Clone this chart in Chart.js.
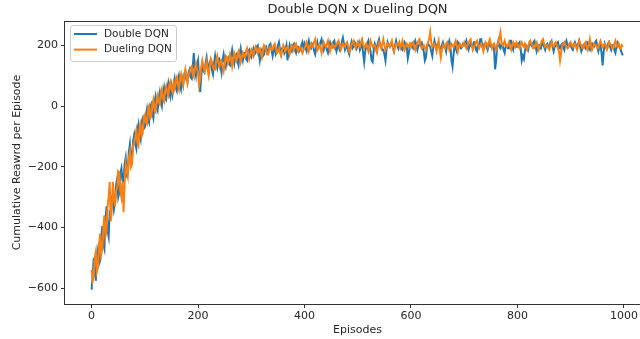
<!DOCTYPE html>
<html>
<head>
<meta charset="utf-8">
<script src="https://cdn.jsdelivr.net/npm/chart.js@4.4.1/dist/chart.umd.min.js"></script>
<style>
  html, body { margin: 0; padding: 0; background: #fff; overflow: hidden; }
  #wrap { width: 660px; height: 339px; }
</style>
</head>
<body>
<div id="wrap"><canvas id="rewardChart"></canvas></div>
<script>
// one value every 2 episodes
const episodes = Array.from({ length: 500 }, (_, i) => i * 2);

const doubleDqn = [
  // 0 - 98
  -605, -560, -500, -545, -575, -490, -470, -520, -510, -440, -395, -455, -470, -380, -330, -410, -430, -350, -355, -300, -290, -340, -320, -260, -240,
  -300, -285, -220, -205, -245, -250, -190, -170, -225, -215, -150, -125, -175, -170, -115, -95, -125, -140, -80, -60, -95, -110, -50, -40, -75,
  // 100 - 198
  -70, -30, -10, -45, -55, -5, 5, -25, -40, 10, 30, -5, -15, 25, 45, 15, 0, 40, 60, 25, 20, 55, 75, 45, 30,
  65, 40, 70, 90, 60, 50, 85, 100, 70, 55, 90, 70, 105, 115, 85, 80, 110, 120, 95, 90, 130, 174, 120, 100, 135,
  // 200 - 298
  150, 90, 46, 100, 135, 115, 110, 140, 160, 130, 120, 145, 150, 120, 105, 140, 165, 140, 125, 150, 155, 130, 110, 150, 170,
  145, 130, 155, 160, 140, 135, 165, 185, 160, 140, 165, 170, 150, 135, 170, 190, 165, 150, 175, 175, 155, 150, 180, 185, 165,
  // 300 - 398
  160, 180, 190, 170, 175, 195, 200, 175, 150, 175, 185, 165, 170, 190, 195, 175, 180, 200, 205, 185, 165, 185, 190, 170, 178,
  200, 210, 185, 170, 190, 195, 175, 185, 200, 150, 180, 200, 185, 180, 200, 205, 185, 175, 195, 195, 180, 185, 200, 210, 190,
  // 400 - 498
  205, 190, 180, 200, 215, 195, 190, 205, 200, 180, 170, 195, 210, 190, 195, 210, 220, 200, 185, 200, 200, 185, 175, 195, 210,
  200, 195, 210, 215, 195, 180, 195, 205, 185, 190, 210, 225, 205, 185, 195, 200, 180, 170, 195, 210, 190, 195, 210, 205, 190,
  // 500 - 598
  200, 210, 185, 195, 210, 175, 145, 180, 195, 205, 215, 195, 180, 150, 145, 185, 205, 195, 190, 210, 220, 200, 195, 185, 185,
  170, 150, 185, 210, 200, 195, 205, 205, 190, 180, 200, 215, 200, 190, 205, 200, 190, 185, 200, 210, 200, 195, 157, 175, 200,
  // 600 - 698
  205, 195, 190, 205, 215, 200, 185, 200, 200, 210, 210, 190, 180, 150, 160, 195, 205, 200, 195, 180, 165, 195, 215, 200, 190,
  205, 205, 190, 185, 200, 210, 195, 195, 180, 205, 205, 215, 195, 150, 130, 170, 200, 190, 180, 210, 205, 195, 190, 195, 205,
  // 700 - 798
  200, 205, 215, 195, 185, 200, 205, 195, 195, 210, 210, 185, 180, 200, 200, 220, 220, 195, 190, 205, 205, 195, 185, 200, 210,
  195, 195, 200, 190, 121, 150, 200, 215, 195, 190, 205, 200, 185, 175, 200, 200, 190, 190, 215, 215, 195, 185, 205, 205, 195,
  // 800 - 898
  195, 205, 210, 190, 150, 165, 155, 180, 200, 195, 185, 200, 210, 200, 195, 210, 215, 195, 180, 195, 200, 195, 190, 205, 210,
  195, 185, 200, 205, 195, 195, 210, 215, 195, 180, 195, 200, 205, 210, 195, 190, 200, 205, 195, 185, 205, 215, 200, 195, 205,
  // 900 - 998
  200, 190, 185, 200, 210, 200, 195, 205, 215, 195, 180, 190, 200, 195, 190, 210, 210, 190, 185, 200, 205, 195, 195, 210, 215,
  195, 180, 195, 200, 175, 134, 180, 205, 195, 190, 205, 210, 195, 185, 200, 200, 185, 175, 195, 210, 205, 195, 185, 175, 167
];

const duelingDqn = [
  // 0 - 98
  -540, -575, -560, -500, -480, -545, -530, -460, -420, -490, -470, -400, -360, -430, -410, -330, -300, -250, -380, -340, -250, -300, -330, -280, -270,
  -215, -220, -280, -300, -250, -350, -260, -190, -210, -230, -170, -150, -200, -190, -130, -120, -100, -80, -120, -130, -75, -60, -100, -90, -40,
  // 100 - 198
  -30, -55, -60, -10, 0, -40, -35, 5, 20, -15, -20, 20, 35, 10, 5, 40, 55, 25, 15, 50, 65, 45, 35, 70, 80,
  55, 45, 75, 60, 85, 95, 70, 55, 90, 105, 85, 70, 100, 120, 95, 75, 100, 110, 125, 130, 105, 95, 125, 140, 120,
  // 200 - 298
  110, 69, 90, 130, 150, 130, 115, 125, 145, 120, 100, 130, 155, 145, 130, 120, 120, 150, 165, 145, 130, 145, 150, 130, 115,
  140, 165, 160, 140, 150, 170, 155, 130, 150, 175, 165, 150, 165, 180, 170, 145, 160, 175, 165, 160, 180, 190, 175, 155, 170,
  // 300 - 398
  185, 175, 165, 185, 195, 185, 175, 190, 190, 175, 160, 180, 200, 195, 180, 170, 170, 190, 195, 185, 185, 200, 205, 190, 175,
  180, 190, 175, 165, 185, 200, 190, 180, 190, 195, 185, 170, 185, 200, 195, 185, 200, 205, 190, 180, 190, 195, 185, 175, 185,
  // 400 - 498
  190, 200, 210, 195, 180, 195, 205, 195, 195, 210, 220, 200, 185, 195, 200, 190, 175, 195, 210, 200, 195, 205, 215, 195, 180,
  195, 205, 195, 190, 200, 200, 210, 215, 200, 185, 195, 205, 200, 195, 205, 210, 195, 180, 190, 200, 210, 215, 200, 190, 200,
  // 500 - 598
  210, 200, 195, 210, 220, 205, 190, 195, 205, 195, 180, 195, 215, 205, 195, 200, 200, 185, 175, 195, 210, 200, 190, 205, 220,
  200, 185, 195, 205, 200, 195, 205, 215, 195, 180, 195, 205, 200, 200, 210, 190, 200, 215, 200, 185, 195, 205, 200, 195, 205,
  // 600 - 698
  195, 205, 210, 195, 185, 200, 205, 215, 220, 200, 190, 195, 200, 190, 185, 200, 210, 220, 243, 210, 195, 200, 205, 195, 180,
  200, 215, 185, 160, 185, 200, 195, 190, 205, 210, 200, 185, 195, 205, 200, 195, 205, 215, 200, 180, 195, 205, 200, 195, 200,
  // 700 - 798
  210, 200, 190, 200, 205, 215, 220, 200, 185, 195, 200, 210, 215, 200, 190, 200, 205, 195, 180, 195, 210, 205, 195, 210, 220,
  205, 190, 200, 205, 195, 185, 195, 210, 225, 243, 210, 200, 205, 215, 200, 195, 200, 210, 195, 185, 200, 210, 200, 195, 210,
  // 800 - 898
  205, 195, 190, 205, 210, 200, 195, 205, 195, 185, 195, 210, 215, 205, 200, 190, 190, 205, 210, 195, 185, 200, 205, 215, 220,
  205, 195, 200, 200, 190, 185, 200, 210, 200, 195, 205, 210, 200, 190, 180, 150, 175, 200, 205, 210, 200, 195, 190, 195, 205,
  // 900 - 998
  210, 200, 195, 205, 205, 195, 185, 200, 215, 205, 200, 190, 190, 205, 210, 195, 185, 200, 220, 200, 185, 195, 205, 200, 200,
  190, 190, 205, 215, 205, 195, 200, 205, 195, 185, 195, 210, 205, 200, 190, 190, 205, 215, 200, 195, 205, 195, 190, 200, 195
];

const xTicks = [0, 200, 400, 600, 800, 1000];
const yTicks = [-600, -400, -200, 0, 200];

const textColor = '#262626';
const axisColor = '#333333';

Chart.defaults.font.family = '"DejaVu Sans", sans-serif';
Chart.defaults.color = textColor;

function tickText(v) {
  return v < 0 ? '\u2212' + Math.abs(v) : String(v);
}

// matplotlib-like box around the plot
const frame = {
  id: 'frame',
  afterDraw(chart) {
    const a = chart.chartArea;
    const ctx = chart.ctx;
    ctx.save();
    ctx.strokeStyle = axisColor;
    ctx.lineWidth = 1;
    ctx.strokeRect(Math.round(a.left) - 0.5, Math.round(a.top) + 0.5, a.right - a.left, a.bottom - a.top);
    ctx.restore();
  }
};

// legend drawn inside the plot, upper left
const innerLegend = {
  id: 'innerLegend',
  afterDatasetsDraw(chart) {
    const ctx = chart.ctx;
    const x = 70, y = 25;
    ctx.save();
    ctx.fillStyle = 'rgba(255,255,255,0.8)';
    ctx.strokeStyle = '#cccccc';
    ctx.lineWidth = 1;
    ctx.beginPath();
    ctx.roundRect(x + 0.5, y + 0.5, 106, 36, 2.5);
    ctx.fill();
    ctx.stroke();
    ctx.font = '10.5px "DejaVu Sans"';
    ctx.textBaseline = 'middle';
    chart.data.datasets.forEach((ds, i) => {
      const ly = y + 9 + i * 15.6;
      ctx.strokeStyle = ds.borderColor;
      ctx.lineWidth = 2;
      ctx.beginPath();
      ctx.moveTo(x + 4, ly);
      ctx.lineTo(x + 27, ly);
      ctx.stroke();
      ctx.fillStyle = textColor;
      ctx.fillText(ds.label, x + 34, ly);
    });
    ctx.restore();
  }
};

new Chart(document.getElementById('rewardChart'), {
  type: 'line',
  data: {
    datasets: [
      {
        label: 'Double DQN',
        data: episodes.map((e, i) => ({ x: e, y: doubleDqn[i] })),
        borderColor: '#1f77b4',
        borderWidth: 2,
        pointRadius: 0,
        order: 2
      },
      {
        label: 'Dueling DQN',
        data: episodes.map((e, i) => ({ x: e, y: duelingDqn[i] })),
        borderColor: '#ff7f0e',
        borderWidth: 2,
        pointRadius: 0,
        order: 1
      }
    ]
  },
  options: {
    responsive: true,
    maintainAspectRatio: false,
    animation: false,
    layout: { padding: { left: 11, right: 10, top: 0, bottom: 0 } },
    plugins: {
      legend: { display: false },
      tooltip: { enabled: false },
      title: {
        display: true,
        fullSize: false,
        text: 'Double DQN x Dueling DQN',
        color: textColor,
        font: { size: 13, weight: 'normal' },
        padding: { top: 2, bottom: 3.4 }
      }
    },
    scales: {
      x: {
        type: 'linear',
        min: -50,
        max: 1049,
        afterBuildTicks: (scale) => { scale.ticks = xTicks.map(v => ({ value: v })); },
        afterFit: (scale) => { scale.height = 35; },
        grid: { display: true, drawOnChartArea: false, drawTicks: true, tickLength: 4, color: axisColor },
        border: { display: false },
        ticks: { font: { size: 11 }, padding: 2, maxRotation: 0, callback: tickText },
        title: { display: true, text: 'Episodes', font: { size: 11 }, padding: { top: 0, bottom: 2 } }
      },
      y: {
        min: -652,
        max: 280,
        afterBuildTicks: (scale) => { scale.ticks = yTicks.map(v => ({ value: v })); },
        afterFit: (scale) => { scale.width = 54; },
        grid: { display: true, drawOnChartArea: false, drawTicks: true, tickLength: 4, color: axisColor },
        border: { display: false },
        ticks: { font: { size: 11 }, padding: 3, callback: tickText },
        title: { display: true, text: 'Cumulative Reawrd per Episode', font: { size: 11 }, padding: 0 }
      }
    }
  },
  plugins: [frame, innerLegend]
});
</script>
</body>
</html>
